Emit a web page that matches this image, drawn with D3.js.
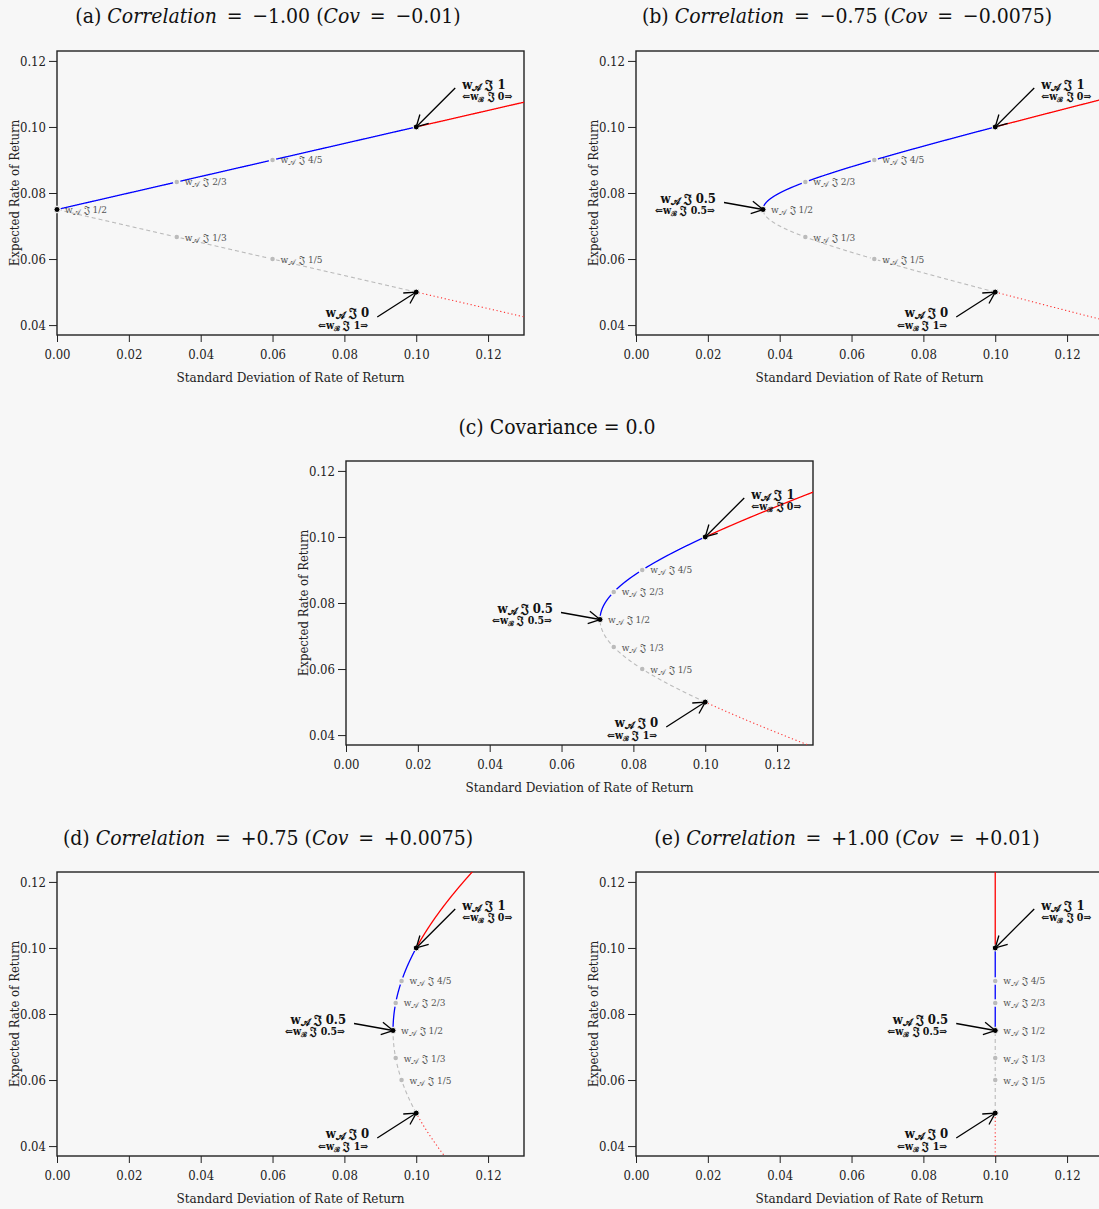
<!DOCTYPE html>
<html><head><meta charset="utf-8">
<script src="https://cdn.jsdelivr.net/npm/d3@7"></script>
<style>
body{margin:0;background:#f7f7f7;}
svg{display:block;background:#f7f7f7;}
text{font-family:"DejaVu Serif Condensed","DejaVu Serif",serif;font-stretch:condensed;}
</style></head>
<body>
<svg id="chart" width="1099" height="1209"></svg>
<script>
// ---------------- data ----------------
const panelLetters = ["a", "b", "c", "d", "e"];
const correlations = ["−1.00", "−0.75", null, "+0.75", "+1.00"];
const covariances = [-0.01, -0.0075, 0.0, 0.0075, 0.01];
const covLabels = ["−0.01", "−0.0075", "0.0", "+0.0075", "+0.01"];
const assetMean = [0.10, 0.05];   // A, B
const assetSd = [0.10, 0.10];     // A, B
const markedWeights = [1/5, 1/3, 1/2, 2/3, 4/5];
const markedLabels = ["1/5", "1/3", "1/2", "2/3", "4/5"];
const keyWeights = [0, 0.5, 1];
const keyLabelsA = ["0", "0.5", "1"];
const keyLabelsB = ["1", "0.5", "0"];
const xTicks = [0.00, 0.02, 0.04, 0.06, 0.08, 0.10, 0.12];
const yTicks = [0.04, 0.06, 0.08, 0.10, 0.12];
const xTitle = "Standard Deviation of Rate of Return";
const yTitle = "Expected Rate of Return";
const J = "\u{1D50D}";

// ---------------- layout ----------------
const frames = [
  {x: 57, y: 51, title: [268, 16]},
  {x: 636, y: 51, title: [847, 16]},
  {x: 346, y: 461, title: [557, 427]},
  {x: 57, y: 872, title: [268, 838]},
  {x: 636, y: 872, title: [847, 838]}
];
const W = 467, H = 284;

const svg = d3.select("#chart");
const defs = svg.append("defs");

function portfolio(w, cov) {
  const mean = w * assetMean[0] + (1 - w) * assetMean[1];
  const v = w * w * assetSd[0] ** 2 + (1 - w) ** 2 * assetSd[1] ** 2 + 2 * w * (1 - w) * cov;
  return {w, sd: Math.sqrt(Math.max(0, v)), mean};
}

const weightGrid = d3.range(-3, 4.0005, 0.001);

panelLetters.forEach((letter, i) => {
  const f = frames[i];
  const cov = covariances[i];
  const g = svg.append("g").attr("transform", `translate(${f.x},${f.y})`);
  const x = d3.scaleLinear().domain([0, 0.13]).range([0, W]);
  const y = d3.scaleLinear().domain([0.037, 0.123]).range([H, 0]);

  // title
  const t = svg.append("text").attr("x", f.title[0]).attr("y", f.title[1] + 7)
    .attr("text-anchor", "middle").style("font-size", "21px").attr("fill", "#111");
  if (correlations[i] === null) {
    t.text(`(${letter}) Covariance = ${covLabels[i]}`);
  } else {
    t.append("tspan").text(`(${letter}) `);
    t.append("tspan").style("font-style", "italic").text("Correlation");
    t.append("tspan").text(` \u2009=\u2009 ${correlations[i]} (`);
    t.append("tspan").style("font-style", "italic").text("Cov");
    t.append("tspan").text(` \u2009=\u2009 ${covLabels[i]})`);
  }

  const clipId = "clip" + letter;
  defs.append("clipPath").attr("id", clipId).append("rect").attr("width", W).attr("height", H);

  // axes
  const xa = g.append("g").attr("transform", `translate(0,${H})`)
    .call(d3.axisBottom(x).tickValues(xTicks).tickFormat(d3.format(".2f")).tickSizeOuter(0).tickSize(7).tickPadding(8));
  const ya = g.append("g")
    .call(d3.axisLeft(y).tickValues(yTicks).tickFormat(d3.format(".2f")).tickSizeOuter(0).tickSize(8).tickPadding(3));
  [xa, ya].forEach(a => {
    a.select(".domain").remove();
    a.selectAll("line").attr("stroke", "#222");
    a.selectAll("text").style("font-size", "13px").style("font-family", null).attr("fill", "#222");
  });
  g.append("rect").attr("width", W).attr("height", H).attr("fill", "none").attr("stroke", "#222").attr("stroke-width", 1.4);

  g.append("text").attr("x", W / 2).attr("y", H + 47).attr("text-anchor", "middle")
    .style("font-size", "13.4px").attr("fill", "#222").text(xTitle);
  g.append("text").attr("transform", `translate(-38,${H / 2}) rotate(-90)`).attr("text-anchor", "middle")
    .style("font-size", "13px").attr("fill", "#222").text(yTitle);

  // curves
  const pts = weightGrid.map(w => portfolio(w, cov));
  const line = d3.line().x(d => x(d.sd)).y(d => y(d.mean));
  const plot = g.append("g").attr("clip-path", `url(#${clipId})`);
  const seg = (lo, hi) => pts.filter(p => p.w >= lo - 1e-9 && p.w <= hi + 1e-9);
  plot.append("path").datum(seg(-3, 0)).attr("d", line).attr("fill", "none")
    .attr("stroke", "#ff3030").attr("stroke-width", 1.1).attr("stroke-dasharray", "1.2,2.6");
  plot.append("path").datum(seg(0, 0.5)).attr("d", line).attr("fill", "none")
    .attr("stroke", "#bbbbbb").attr("stroke-width", 1.1).attr("stroke-dasharray", "4,3");
  plot.append("path").datum(seg(0.5, 1)).attr("d", line).attr("fill", "none")
    .attr("stroke", "#0000ff").attr("stroke-width", 1.3);
  plot.append("path").datum(seg(1, 4)).attr("d", line).attr("fill", "none")
    .attr("stroke", "#ff0000").attr("stroke-width", 1.3);

  // marked points
  markedWeights.forEach((w, k) => {
    const p = portfolio(w, cov);
    const isHalf = Math.abs(w - 0.5) < 1e-9;
    g.append("circle").attr("cx", x(p.sd)).attr("cy", y(p.mean)).attr("r", 3)
      .attr("fill", isHalf ? "#000" : "#bbbbbb").attr("stroke", "#f7f7f7").attr("stroke-width", 1.5);
    const lt = g.append("text").attr("x", x(p.sd) + 8).attr("y", y(p.mean) + 3.5)
      .style("font-size", "10px").attr("fill", "#555");
    lt.append("tspan").text("w");
    lt.append("tspan").attr("dy", 2).style("font-size", "8px").text("\u{1D49C}");
    lt.append("tspan").attr("dy", -2).text(` ${J} ${markedLabels[k]}`);
  });

  // key points + arrows
  const offsets = {0: [-39, 25], 0.5: [-39, -7], 1: [39, -39]};
  keyWeights.forEach((w, k) => {
    const p = portfolio(w, cov);
    const px = x(p.sd), py = y(p.mean);
    g.append("circle").attr("cx", px).attr("cy", py).attr("r", 3)
      .attr("fill", "#000").attr("stroke", "#f7f7f7").attr("stroke-width", 1);
    if (w === 0.5 && i === 0) return;
    const [ox, oy] = offsets[w];
    const sx = px + ox, sy = py + oy;
    g.append("line").attr("x1", sx).attr("y1", sy).attr("x2", px).attr("y2", py)
      .attr("stroke", "#000").attr("stroke-width", 1.3);
    const ang = Math.atan2(sy - py, sx - px);
    [-0.5, 0.5].forEach(da => {
      g.append("line").attr("x1", px).attr("y1", py)
        .attr("x2", px + 13 * Math.cos(ang + da)).attr("y2", py + 13 * Math.sin(ang + da))
        .attr("stroke", "#000").attr("stroke-width", 1.3);
    });
    const anchor = w === 1 ? "start" : "end";
    const tx = w === 1 ? sx + 7 : sx - 8;
    const ty = w === 1 ? sy + 1 : sy;
    const l1 = g.append("text").attr("x", tx).attr("y", ty).attr("text-anchor", anchor)
      .style("font-size", "13px").style("font-weight", "bold").attr("fill", "#111");
    l1.append("tspan").text("w");
    l1.append("tspan").attr("dy", 2).style("font-size", "10px").text("\u{1D49C}");
    l1.append("tspan").attr("dy", -2).text(` ${J} ${keyLabelsA[k]}`);
    const l2 = g.append("text").attr("x", tx + (w === 1 ? 0 : -1)).attr("y", ty + 11.5).attr("text-anchor", anchor)
      .style("font-size", "10.5px").style("font-weight", "bold").attr("fill", "#111");
    l2.append("tspan").text("\u21D0w");
    l2.append("tspan").attr("dy", 2).style("font-size", "7px").text("\u212C");
    l2.append("tspan").attr("dy", -2).text(` ${J} ${keyLabelsB[k]}\u21D2`);
  });
});
</script>
</body></html>
